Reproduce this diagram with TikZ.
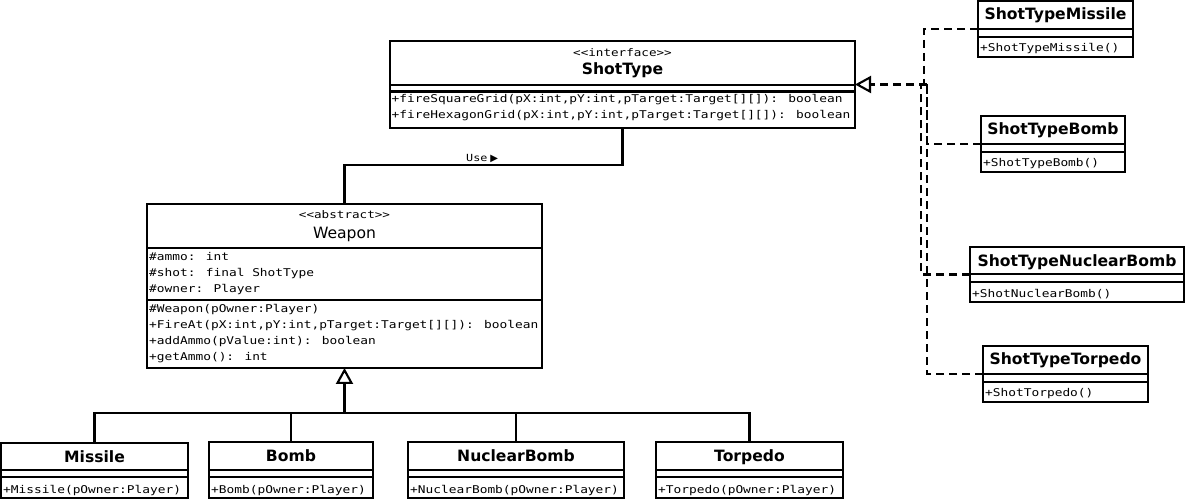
\documentclass[tikz,border=0pt]{standalone}
\usepackage{fontspec}
\setmainfont{DejaVu Sans}
\newfontfamily\monof[FakeStretch=1.2]{DejaVu Sans Mono}
\usetikzlibrary{arrows.meta}
\newcommand\classbox[5]{\node[cls, minimum width={#4-#2}, minimum height={#5-#3}] (#1) at (#2,#3) {};}
\newcommand\sepline[3]{\draw[lw] (#1,#3) -- (#2,#3);}
\newcommand\gl{<\kern0pt<}
\newcommand\gr{>\kern0pt>}
\begin{document}
\begin{tikzpicture}[x=1pt,y=-1pt,
 lw/.style={line width=2.1pt},
 cls/.style={draw, line width=2.1pt, anchor=north west, inner sep=0pt, outer sep=0pt},
 ttl/.style={font=\fontsize{15.6}{18}\selectfont\bfseries, inner sep=0pt, anchor=base},
 ttlplain/.style={font=\fontsize{15.6}{18}\selectfont, inner sep=0pt, anchor=base},
 stereo/.style={font=\monof\fontsize{10.5}{13}\selectfont, inner sep=0pt, anchor=base},
 mem/.style={font=\monof\fontsize{10.7}{16}\selectfont, inner sep=0pt, anchor=base west},
 lbl/.style={font=\monof\fontsize{9.8}{12}\selectfont, inner sep=0pt, anchor=base west},
 gen/.style={line width=2.1pt, -{Triangle[open, length=16pt, width=17pt]}},
 dsh/.style={line width=2.1pt, dash pattern=on 8pt off 5pt},
 real/.style={dsh, -{Triangle[open, length=16pt, width=17pt]}},
]
\fill[white] (0,0) rectangle (1186,502);
\useasboundingbox (0,0) rectangle (1186,502);

% ShotType interface
\classbox{st}{390}{41}{855}{128}
\sepline{390}{855}{85}
\sepline{390}{855}{91.5}
\node[stereo] (stS) at (622.5,57) {\gl interface\gr};
\node[ttl] (stT) at (622.5,75) {ShotType};
\node[mem] (stM1) at (391.5,103) {+fireSquareGrid(pX:int,pY:int,pTarget:Target[][]): boolean};
\node[mem] (stM2) at (391.5,119) {+fireHexagonGrid(pX:int,pY:int,pTarget:Target[][]): boolean};

% Weapon abstract
\classbox{wp}{147}{204}{542}{368}
\sepline{147}{542}{248}
\sepline{147}{542}{300}
\node[stereo] (wpS) at (344.5,219) {\gl abstract\gr};
\node[ttlplain] (wpT) at (344.5,239) {Weapon};
\node[mem] (wpA1) at (149,261) {\#ammo: int};
\node[mem] (wpA2) at (149,277) {\#shot: final ShotType};
\node[mem] (wpA3) at (149,293) {\#owner: Player};
\node[mem] (wpM1) at (149,313) {\#Weapon(pOwner:Player)};
\node[mem] (wpM2) at (149,329) {+FireAt(pX:int,pY:int,pTarget:Target[][]): boolean};
\node[mem] (wpM3) at (149,345) {+addAmmo(pValue:int): boolean};
\node[mem] (wpM4) at (149,361) {+getAmmo(): int};

% subclasses
\classbox{mi}{1}{443}{188}{498}
\sepline{1}{188}{470}
\sepline{1}{188}{477}
\node[ttl] (miT) at (94.5,462) {Missile};
\node[mem] (miM) at (3,493) {+Missile(pOwner:Player)};

\classbox{bo}{209}{442}{373}{498}
\sepline{209}{373}{470}
\sepline{209}{373}{477}
\node[ttl] (boT) at (291,461) {Bomb};
\node[mem] (boM) at (211,493) {+Bomb(pOwner:Player)};

\classbox{nb}{408}{442}{624}{498}
\sepline{408}{624}{470}
\sepline{408}{624}{477}
\node[ttl] (nbT) at (516,461) {NuclearBomb};
\node[mem] (nbM) at (410,493) {+NuclearBomb(pOwner:Player)};

\classbox{to}{656}{442}{843}{498}
\sepline{656}{843}{470}
\sepline{656}{843}{477}
\node[ttl] (toT) at (749.5,461) {Torpedo};
\node[mem] (toM) at (658,493) {+Torpedo(pOwner:Player)};

% implementations
\classbox{stm}{978}{1}{1133}{57}
\sepline{978}{1133}{29}
\sepline{978}{1133}{37}
\node[ttl] (stmT) at (1055.5,20) {ShotTypeMissile};
\node[mem] (stmM) at (980,51.5) {+ShotTypeMissile()};

\classbox{stb}{981}{116}{1125}{172}
\sepline{981}{1125}{144}
\sepline{981}{1125}{152}
\node[ttl] (stbT) at (1053,135) {ShotTypeBomb};
\node[mem] (stbM) at (983,166.5) {+ShotTypeBomb()};

\classbox{stn}{970}{247}{1184}{302}
\sepline{970}{1184}{274}
\sepline{970}{1184}{282}
\node[ttl] (stnT) at (1077,266.5) {ShotTypeNuclearBomb};
\node[mem] (stnM) at (972,297.5) {+ShotNuclearBomb()};

\classbox{stt}{983}{346}{1148}{402}
\sepline{983}{1148}{374}
\sepline{983}{1148}{382}
\node[ttl] (sttT) at (1065.5,365) {ShotTypeTorpedo};
\node[mem] (sttM) at (985,397) {+ShotTorpedo()};

% Use association
\coordinate (u1) at (622.5,165);
\draw[lw] (st.south) -- (u1) -| (wp.north);
\node[lbl] (use) at (466,162) {Use\hspace{3pt}{\normalfont\fontsize{10}{10}\selectfont ▶}};

% generalization
\coordinate (gj) at (344.5,413);
\draw[gen] (gj) -- (wp.south);
\draw[lw] (mi.north) |- (gj);
\draw[lw] (bo.north) |- (gj);
\draw[lw] (nb.north) |- (gj);
\draw[lw] (to.north) |- (gj);

% realization
\coordinate (rj) at (927,84.5);
\coordinate (cm) at (924,84.5);
\coordinate (cn) at (921,84.5);
\draw[real] (rj) -- (st.east);
\draw[dsh] (stm.west) -| (cm);
\draw[dsh] (stb.west) -| (rj);
\draw[dsh] (stn.west) -| (cn);
\draw[dsh] (stt.west) -| (rj);
\end{tikzpicture}
\end{document}
